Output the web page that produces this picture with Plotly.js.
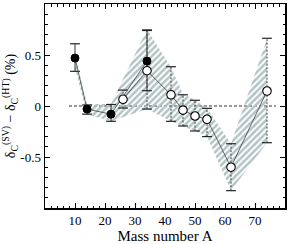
<!DOCTYPE html>
<html><head><meta charset="utf-8">
<script src="https://cdn.plot.ly/plotly-3.0.1.min.js"></script>
<style>body{margin:0;padding:0;background:#fff}#plot{width:291px;height:244px}</style>
</head><body><div id="plot"></div>
<script>
// Filled points
var filledA = [10, 14, 22, 34];
var filledV = [0.47, -0.03, -0.08, 0.44];
var filledErrPlus = [0.14, 0.04, 0.095, 0.30];
var filledErrMinus = [0.13, 0.05, 0.07, 0.29];
// Open points
var openA = [26, 34, 42, 46, 50, 54, 62, 74];
var openV = [0.066, 0.346, 0.11, -0.04, -0.098, -0.13, -0.60, 0.147];
var openErrPlus = [0.09, 0.40, 0.275, 0.15, 0.154, 0.107, 0.23, 0.517];
var openErrMinus = [0.086, 0.376, 0.26, 0.156, 0.147, 0.17, 0.23, 0.507];
// Hatched band
var bandA = [10, 14, 22, 34, 42, 46, 50, 54, 62, 74];
var bandLo = [0.37, -0.08, -0.15, -0.03, -0.15, -0.20, -0.245, -0.30, -0.83, -0.36];
var bandHi = [0.50, 0.02, 0.02, 0.75, 0.38, 0.12, 0.06, -0.02, -0.37, 0.66];
var xTicks = [10, 20, 30, 40, 50, 60, 70];
var yTicks = [-0.5, 0, 0.5];
var yTickText = ['-0.5', '0', '0.5'];

var bandX = bandA.concat(bandA.slice().reverse());
var bandY = bandHi.concat(bandLo.slice().reverse());

function segs(A, V, ep, em) {
  var x = [], y = [];
  for (var i = 0; i < A.length; i++) { x.push(A[i], A[i], null); y.push(V[i] - em[i], V[i] + ep[i], null); }
  return {x: x, y: y};
}
function caps(A, V, ep, em) {
  var x = [], y = [];
  for (var i = 0; i < A.length; i++) { x.push(A[i], A[i]); y.push(V[i] - em[i], V[i] + ep[i]); }
  return {x: x, y: y};
}
var fs = segs(filledA, filledV, filledErrPlus, filledErrMinus);
var os = segs(openA, openV, openErrPlus, openErrMinus);
var fc = caps(filledA, filledV, filledErrPlus, filledErrMinus);
var oc = caps(openA, openV, openErrPlus, openErrMinus);

var traces = [
  {x: bandX, y: bandY, mode: 'lines', fill: 'toself', line: {width: 0, color: 'rgba(0,0,0,0)'},
   fillcolor: 'rgba(0,0,0,0)',
   fillpattern: {shape: '/', fgcolor: '#b3c3c3', bgcolor: 'rgba(255,255,255,0)', size: 4.5, solidity: 0.55},
   hoverinfo: 'skip'},
  {x: fs.x, y: fs.y, mode: 'lines', line: {color: '#333', width: 1}},
  {x: os.x, y: os.y, mode: 'lines', line: {color: '#444', width: 1, dash: '2px,1.5px'}},
  {x: fc.x.concat(oc.x), y: fc.y.concat(oc.y), mode: 'markers',
   marker: {symbol: 'line-ew', size: 7, line: {color: '#222', width: 1.2}}},
  {x: filledA, y: filledV, mode: 'lines+markers', line: {color: '#444', width: 0.8},
   marker: {symbol: 'circle', size: 8, color: '#000', line: {color: '#000', width: 1}}},
  {x: openA, y: openV, mode: 'lines+markers', line: {color: '#444', width: 0.8},
   marker: {symbol: 'circle', size: 8.5, color: '#fff', line: {color: '#000', width: 1.1}}}
];

var serif = 'Liberation Serif, Times New Roman, serif';
var layout = {
  width: 291, height: 244,
  margin: {l: 45, r: 6, t: 4, b: 36},
  paper_bgcolor: '#fff', plot_bgcolor: '#fff',
  showlegend: false,
  font: {family: serif, color: '#000', size: 13},
  xaxis: {
    range: [0, 80], tickmode: 'array', tickvals: xTicks, ticktext: xTicks.map(String),
    ticks: 'inside', ticklen: 5, tickwidth: 1, tickcolor: '#000',
    minor: {dtick: 2, ticks: 'inside', ticklen: 2.5, tickwidth: 1, tickcolor: '#000'},
    showline: true, linecolor: '#000', linewidth: 1.5, mirror: 'allticks',
    showgrid: false, zeroline: false,
    tickfont: {family: serif, size: 13},
    title: {text: 'Mass number A', font: {family: serif, size: 15}, standoff: 2}
  },
  yaxis: {
    range: [-1, 1], tickmode: 'array', tickvals: yTicks, ticktext: yTickText,
    ticks: 'inside', ticklen: 5, tickwidth: 1, tickcolor: '#000',
    minor: {dtick: 0.1, ticks: 'inside', ticklen: 2.5, tickwidth: 1, tickcolor: '#000'},
    showline: true, linecolor: '#000', linewidth: 1.5, mirror: 'allticks',
    showgrid: false, zeroline: false,
    tickfont: {family: serif, size: 13},
    title: {text: 'δ<sub>C</sub><sup>(SV)</sup> − δ<sub>C</sub><sup>(HT)</sup> (%)', font: {family: serif, size: 14}, standoff: 4}
  },
  shapes: [{type: 'line', xref: 'x', yref: 'y', x0: 8, x1: 77, y0: 0, y1: 0,
            line: {color: '#333', width: 1, dash: '3px,2px'}, layer: 'below'}]
};
Plotly.newPlot('plot', traces, layout, {staticPlot: true, displayModeBar: false});
</script></body></html>
